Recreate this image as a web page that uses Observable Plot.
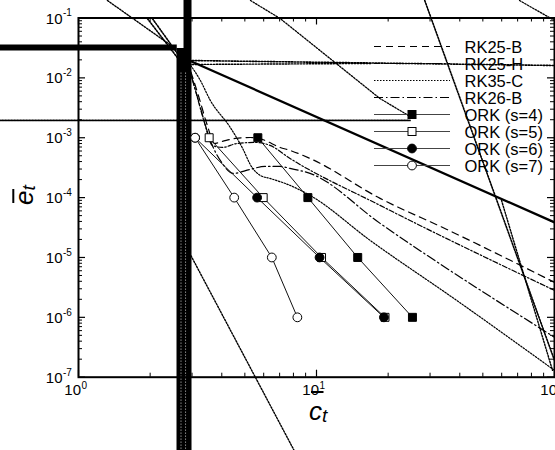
<!DOCTYPE html>
<html>
<head>
<meta charset="utf-8">
<script src="https://cdn.jsdelivr.net/npm/d3@7"></script>
<script src="https://cdn.jsdelivr.net/npm/@observablehq/plot@0.6"></script>
<style>
  html, body { margin: 0; padding: 0; background: #fff; }
  svg { display: block; }
</style>
</head>
<body>
<div id="chart"></div>
<script>
const FONT = "'Liberation Sans', Arial, Helvetica, sans-serif";

// ORK schemes: normalized cost per step vs. error level
const ork4Cost = [5.67, 9.2, 14.9, 25.3];
const ork4Err  = [1e-3, 1e-4, 1e-5, 1e-6];
const ork5Cost = [3.54, 5.97, 10.5, 19.4];
const ork5Err  = [1e-3, 1e-4, 1e-5, 1e-6];
const ork6Cost = [3.09, 5.63, 10.3, 19.2];
const ork6Err  = [1e-3, 1e-4, 1e-5, 1e-6];
const ork7Cost = [3.09, 4.51, 6.49, 8.31];
const ork7Err  = [1e-3, 1e-4, 1e-5, 1e-6];

// Reference low-storage RK schemes
const rk25bCost = [2.86, 3.19, 3.48, 3.72, 4.02, 4.55, 5.26, 5.91, 7.03, 7.74, 9.39, 18.5, 35.3, 100];
const rk25bErr  = [1.95e-2, 5.08e-3, 1.60e-3, 8.03e-4, 8.67e-4, 9.73e-4, 1.01e-3, 9.37e-4, 6.89e-4, 6.14e-4, 4.51e-4, 9.70e-5, 2.94e-5, 3.84e-6];
const rk25hCost = [2.86, 3.10, 3.38, 3.65, 4.02, 4.64, 5.52, 6.38, 7.74, 18.5, 100];
const rk25hErr  = [1.95e-2, 6.16e-3, 1.80e-3, 7.44e-4, 6.89e-4, 8.03e-4, 8.34e-4, 7.44e-4, 4.51e-4, 7.41e-5, 2.82e-6];
const rk35cCost = [2.86, 3.25, 3.58, 4.34, 4.87, 5.36, 5.80, 6.38, 7.74, 9.39, 16.8, 38.8, 100];
const rk35cErr  = [1.95e-2, 9.05e-3, 4.20e-3, 1.49e-3, 6.89e-4, 3.19e-4, 2.35e-4, 2.09e-4, 1.60e-4, 1.09e-4, 1.93e-5, 1.92e-6, 1.30e-7];
const rk26bCost = [2.86, 3.19, 3.58, 4.02, 4.47, 5.26, 6.08, 7.03, 7.74, 9.39, 18.5, 100];
const rk26bErr  = [1.95e-2, 4.20e-3, 9.02e-4, 3.72e-4, 2.54e-4, 2.96e-4, 3.32e-4, 3.32e-4, 3.07e-4, 2.54e-4, 3.71e-5, 4.64e-7];

// Long unclipped strokes crossing the axes
const barCost   = [2.762, 2.871];
const barTopErr = [0.031, 0.25];
const barEndErr = 5e-9;
const barGapCost = [2.696, 2.817];
const hBarCost = [0.4, 2.6];
const hBarErr  = 0.0322;
const slopeCost = [2.92, 100];
const slopeErr  = [0.0195, 3.85e-5];
const flat1Cost = [2.92, 100];
const flat1Err  = [0.0195, 0.0161];
const flat2Cost = [2.92, 17.1];
const flat2Err  = [0.01674, 0.0174];
const flat3Cost = [0.4, 24.7];
const flat3Err  = [1.945e-3, 1.945e-3];
const fanCost = [5.28, 7.03, 18.46, 24.7];
const fanErr  = [0.196, 0.0981, 4.53e-3, 2.27e-3];
const steep1Cost = [28.5, 100];
const steep1Err  = [0.196, 1.91e-7];
const steep2Cost = [59.9, 98.1];
const steep2Err  = [8.98e-5, 1.3e-7];
const lowCost = [2.89, 8.05];
const lowErr  = [1.31e-5, 6.0e-9];
const topL1Cost = [1.323, 2.55];
const topL1Err  = [0.196, 0.031];
const topL2Cost = [1.947, 2.60];
const topL2Err  = [0.098, 0.0219];
const topL3Cost = [2.043, 2.677];
const topL3Err  = [0.098, 0.0219];
const cornerCost = [71.3, 100];
const cornerErr  = [0.196, 0.0908];

// Axis tick labels
const xMajor = [1, 10, 100];
const xExp = ["0", "1", "2"];
const yMajor = [1e-1, 1e-2, 1e-3, 1e-4, 1e-5, 1e-6, 1e-7];
const yExp = ["-1", "-2", "-3", "-4", "-5", "-6", "-7"];

const legendNames = ["RK25-B", "RK25-H", "RK35-C", "RK26-B", "ORK (s=4)", "ORK (s=5)", "ORK (s=6)", "ORK (s=7)"];

const pts = (c, e) => c.map((v, i) => ({c: v, e: e[i]}));

const W = 555, H = 450;
const M = {top: 17.5, right: 1, bottom: 73.3, left: 78};
const innerW = W - M.left - M.right;
const innerH = H - M.top - M.bottom;

const isPow10 = v => Math.abs(Math.log10(v) - Math.round(Math.log10(v))) < 1e-9;
const xAll = d3.scaleLog().domain([1, 100]).ticks();
const yAll = d3.scaleLog().domain([1e-7, 1e-1]).ticks();
const xMinor = xAll.filter(v => !isPow10(v));
const yMinor = yAll.filter(v => !isPow10(v));

const DASH = {
  rk25b: "7,5",
  rk25h: "5,2,1.5,2",
  rk35c: "1.5,1.5",
  rk26b: "9,3,1.5,3"
};
const DOTS = "1.5,1.5";

function line(c, e, opts) {
  return Plot.line(pts(c, e), {x: "c", y: "e", stroke: "black", ...opts});
}

function legendMark() {
  const g = d3.create("svg:g").attr("font-family", FONT).attr("text-anchor", "start");
  const x0 = 374, x1 = 450, xm = 412, xt = 464.5, y0 = 46.5, dy = 17;
  const styles = [
    {dash: DASH.rk25b}, {dash: DASH.rk25h}, {dash: DASH.rk35c}, {dash: DASH.rk26b},
    {sym: "square", fill: "black"}, {sym: "square", fill: "white"},
    {sym: "circle", fill: "black"}, {sym: "circle", fill: "white"}
  ];
  legendNames.forEach((name, i) => {
    const y = y0 + dy * i, s = styles[i];
    const ln = g.append("line").attr("x1", x0).attr("x2", x1).attr("y1", y).attr("y2", y)
      .attr("stroke", s.sym ? "#444" : "black").attr("stroke-width", s.sym ? 1 : 1.2);
    if (s.dash) ln.attr("stroke-dasharray", s.dash);
    if (s.sym === "square") {
      g.append("rect").attr("x", xm - 4).attr("y", y - 4).attr("width", 8).attr("height", 8)
        .attr("fill", s.fill).attr("stroke", "black").attr("stroke-width", 1);
    } else if (s.sym === "circle") {
      g.append("circle").attr("cx", xm).attr("cy", y).attr("r", 4.4)
        .attr("fill", s.fill).attr("stroke", "black").attr("stroke-width", 1);
    }
    g.append("text").attr("x", xt).attr("y", y + 6).attr("font-size", 16.5).attr("fill", "black").text(name);
  });
  return g.node();
}

function axisTitles() {
  const g = d3.create("svg:g").attr("font-family", FONT).attr("fill", "black").attr("text-anchor", "start");
  // x title: c-bar with subscript t
  const tx = g.append("text").attr("x", 309).attr("y", 420).attr("font-size", 26).attr("font-style", "italic");
  tx.append("tspan").text("c");
  tx.append("tspan").attr("font-size", 19).attr("dy", 2).text("t");
  g.append("line").attr("x1", 311).attr("x2", 323.5).attr("y1", 392).attr("y2", 392)
    .attr("stroke", "black").attr("stroke-width", 2);
  // y title: e-bar with subscript t, rotated
  const gy = g.append("g").attr("transform", "translate(33.3,205) rotate(-90)");
  const ty = gy.append("text").attr("x", 0).attr("y", 0).attr("font-size", 26).attr("font-style", "italic");
  ty.append("tspan").text("e");
  ty.append("tspan").attr("font-size", 19).attr("dy", 2).text("t");
  gy.append("line").attr("x1", 2).attr("x2", 16).attr("y1", -20).attr("y2", -20)
    .attr("stroke", "black").attr("stroke-width", 2);
  return g.node();
}

const chart = Plot.plot({
  width: W,
  height: H,
  marginTop: M.top,
  marginRight: M.right,
  marginBottom: M.bottom,
  marginLeft: M.left,
  style: {background: "white", fontFamily: FONT, color: "black"},
  x: {type: "log", domain: [1, 100], axis: null},
  y: {type: "log", domain: [1e-7, 1e-1], axis: null},
  marks: [
    // stray long strokes
    Plot.ruleX([barCost[0]], {x: d => d, y1: barTopErr[0], y2: barEndErr, stroke: "black", strokeWidth: 14}),
    Plot.ruleX([barCost[1]], {x: d => d, y1: barTopErr[1], y2: barEndErr, stroke: "black", strokeWidth: 8}),
    Plot.ruleX(barGapCost, {x: d => d, y1: 0.012, y2: barEndErr, stroke: "white", strokeWidth: 1, strokeDasharray: "1,2", strokeOpacity: 0.8}),
    Plot.ruleY([hBarErr], {y: d => d, x1: hBarCost[0], x2: hBarCost[1], stroke: "black", strokeWidth: 6}),
    line(slopeCost, slopeErr, {strokeWidth: 2.3}),
    line(flat1Cost, flat1Err, {strokeWidth: 1.6, strokeDasharray: DOTS}),
    line(flat2Cost, flat2Err, {strokeWidth: 1.4, strokeDasharray: DOTS}),
    line(flat3Cost, flat3Err, {strokeWidth: 1.8, strokeDasharray: DOTS}),
    line(fanCost, fanErr, {strokeWidth: 1.3, strokeDasharray: DOTS}),
    line(steep1Cost, steep1Err, {strokeWidth: 1.6, strokeDasharray: DOTS}),
    line(steep2Cost, steep2Err, {strokeWidth: 1.4, strokeDasharray: DOTS}),
    line(lowCost, lowErr, {strokeWidth: 1.4, strokeDasharray: DOTS}),
    line(topL1Cost, topL1Err, {strokeWidth: 1.4, strokeDasharray: DOTS}),
    line(topL2Cost, topL2Err, {strokeWidth: 1.6, strokeDasharray: DOTS}),
    line(topL3Cost, topL3Err, {strokeWidth: 1.6, strokeDasharray: DOTS}),
    line(cornerCost, cornerErr, {strokeWidth: 1.3, strokeDasharray: DOTS}),

    // frame and inward ticks on all four sides
    Plot.frame({stroke: "black", strokeWidth: 2}),
    Plot.tickX(xMajor, {x: d => d, insetTop: innerH - 7, stroke: "black", strokeWidth: 1.2}),
    Plot.tickX(xMinor, {x: d => d, insetTop: innerH - 4, stroke: "black", strokeWidth: 1}),
    Plot.tickX(xMajor, {x: d => d, insetBottom: innerH - 7, stroke: "black", strokeWidth: 1.2}),
    Plot.tickX(xMinor, {x: d => d, insetBottom: innerH - 4, stroke: "black", strokeWidth: 1}),
    Plot.tickY(yMajor, {y: d => d, insetRight: innerW - 7, stroke: "black", strokeWidth: 1.2}),
    Plot.tickY(yMinor, {y: d => d, insetRight: innerW - 4, stroke: "black", strokeWidth: 1}),
    Plot.tickY(yMajor, {y: d => d, insetLeft: innerW - 7, stroke: "black", strokeWidth: 1.2}),
    Plot.tickY(yMinor, {y: d => d, insetLeft: innerW - 4, stroke: "black", strokeWidth: 1}),

    // tick labels: 10 with superscript exponent
    Plot.text(xMajor, {x: d => d, frameAnchor: "bottom", text: () => "10", textAnchor: "end", dx: 2.5, dy: 17.6, fontSize: 15, fill: "black"}),
    Plot.text(xMajor, {x: d => d, frameAnchor: "bottom", text: (d, i) => xExp[i], textAnchor: "start", dx: 3, dy: 12, fontSize: 10, fill: "black"}),
    Plot.text(yMajor, {y: d => d, frameAnchor: "left", text: () => "10", textAnchor: "end", dx: -16, dy: 0.7, fontSize: 15, fill: "black"}),
    Plot.text(yMajor, {y: d => d, frameAnchor: "left", text: (d, i) => yExp[i], textAnchor: "start", dx: -15.5, dy: -4.8, fontSize: 10, fill: "black"}),

    // RK reference curves
    line(rk25bCost, rk25bErr, {strokeWidth: 1.2, strokeDasharray: DASH.rk25b, curve: "monotone-x"}),
    line(rk25hCost, rk25hErr, {strokeWidth: 1.2, strokeDasharray: DASH.rk25h, curve: "monotone-x"}),
    line(rk35cCost, rk35cErr, {strokeWidth: 1.2, strokeDasharray: DASH.rk35c, curve: "monotone-x"}),
    line(rk26bCost, rk26bErr, {strokeWidth: 1.2, strokeDasharray: DASH.rk26b, curve: "monotone-x"}),

    // ORK schemes
    line(ork4Cost, ork4Err, {stroke: "#111", strokeWidth: 1}),
    line(ork5Cost, ork5Err, {stroke: "#111", strokeWidth: 1}),
    line(ork6Cost, ork6Err, {stroke: "#111", strokeWidth: 1}),
    line(ork7Cost, ork7Err, {stroke: "#111", strokeWidth: 1}),
    Plot.dot(pts(ork4Cost, ork4Err), {x: "c", y: "e", symbol: "square", r: 4.5, fill: "black", stroke: "black", strokeWidth: 1}),
    Plot.dot(pts(ork5Cost, ork5Err), {x: "c", y: "e", symbol: "square", r: 4.5, fill: "white", stroke: "black", strokeWidth: 1}),
    Plot.dot(pts(ork6Cost, ork6Err), {x: "c", y: "e", symbol: "circle", r: 4.4, fill: "black", stroke: "black", strokeWidth: 1}),
    Plot.dot(pts(ork7Cost, ork7Err), {x: "c", y: "e", symbol: "circle", r: 4.4, fill: "white", stroke: "black", strokeWidth: 1}),

    legendMark,
    axisTitles
  ]
});

document.getElementById("chart").appendChild(chart);
</script>
</body>
</html>
